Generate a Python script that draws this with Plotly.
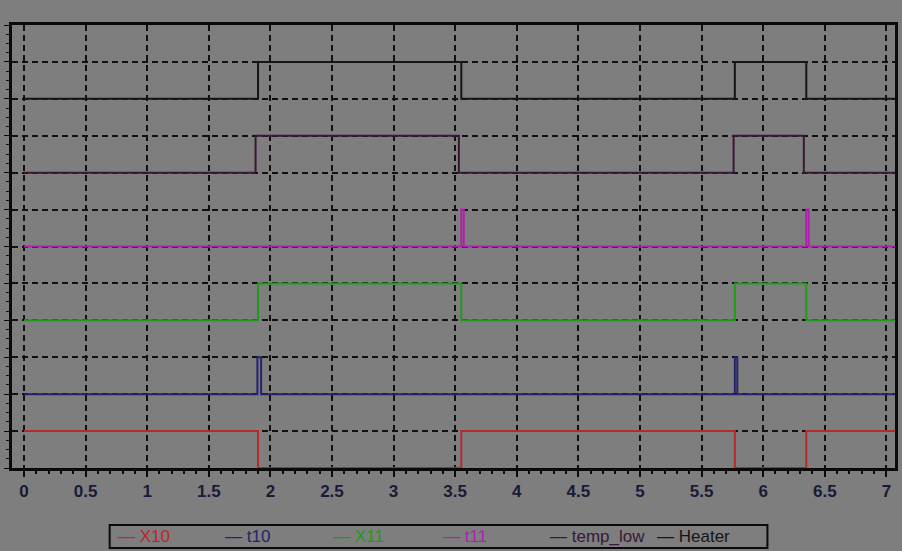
import plotly.graph_objects as go

# ---- data ----
signal_names = ["X10", "t10", "X11", "t11", "temp_low", "Heater"]
signal_colors = ["#b52a2a", "#23236e", "#1f9a1f", "#b020b0", "#3a1838", "#161616"]

x10_t = [0, 1.90, 3.55, 5.77, 6.35, 7.07]
x10_v = [1, 0, 1, 0, 1, 1]
t10_t = [0, 1.895, 1.925, 5.77, 5.79, 7.07]
t10_v = [0, 1, 0, 1, 0, 0]
x11_t = [0, 1.90, 3.55, 5.77, 6.35, 7.07]
x11_v = [0, 1, 0, 1, 0, 0]
t11_t = [0, 3.55, 3.57, 6.35, 6.37, 7.07]
t11_v = [0, 1, 0, 1, 0, 0]
temp_low_t = [0, 1.88, 3.53, 5.76, 6.33, 7.07]
temp_low_v = [0, 1, 0, 1, 0, 0]
heater_t = [0, 1.90, 3.55, 5.77, 6.35, 7.07]
heater_v = [0, 1, 0, 1, 0, 0]

x_tick_vals = [0, 0.5, 1, 1.5, 2, 2.5, 3, 3.5, 4, 4.5, 5, 5.5, 6, 6.5, 7]
x_tick_text = ["0", "0.5", "1", "1.5", "2", "2.5", "3", "3.5", "4", "4.5", "5", "5.5", "6", "6.5", "7"]

series = [(x10_t, x10_v), (t10_t, t10_v), (x11_t, x11_v),
          (t11_t, t11_v), (temp_low_t, temp_low_v), (heater_t, heater_v)]

BG = "#7e7e7e"
fig = go.Figure()
for i, ((tt, vv), name, col) in enumerate(zip(series, signal_names, signal_colors)):
    base = 2 * i
    fig.add_trace(go.Scatter(
        x=tt, y=[v + base for v in vv], mode="lines", name=name,
        line=dict(color=col, width=2, shape="hv"), showlegend=False))

fig.update_layout(
    width=902, height=551,
    paper_bgcolor=BG, plot_bgcolor=BG,
    margin=dict(l=12, r=4, t=25, b=83),
    font=dict(family="Liberation Sans, Arial", size=14, color="#1c1c3c"),
)
fig.update_xaxes(
    range=[-0.097, 7.07], tickvals=x_tick_vals, ticktext=x_tick_text,
    showgrid=True, gridcolor="#111111", gridwidth=1.6, griddash="6px,4px",
    showline=True, linecolor="#0a0a0a", linewidth=3, mirror=True,
    ticks="outside", ticklen=6, tickwidth=1.5, tickcolor="#0a0a0a",
    tickfont=dict(family="Liberation Sans, Arial", size=17, color="#1a1a38", weight="bold"),
    minor=dict(dtick=0.1, tick0=0, ticks="outside", ticklen=3, tickcolor="#0a0a0a", showgrid=False),
    zeroline=False,
)
fig.update_yaxes(
    range=[0, 12], dtick=1, tick0=0, showticklabels=False,
    showgrid=True, gridcolor="#111111", gridwidth=1.6, griddash="6px,4px",
    showline=True, linecolor="#0a0a0a", linewidth=3, mirror=True,
    ticks="outside", ticklen=5, tickwidth=1.2, tickcolor="#0a0a0a",
    minor=dict(dtick=0.25, ticks="outside", ticklen=3, tickcolor="#0a0a0a", showgrid=False),
    zeroline=False,
)

# legend box drawn manually
fig.add_shape(type="rect", xref="paper", yref="paper",
              x0=(110 - 12) / 886, x1=(770 - 12) / 886,
              y0=-(548 - 468) / 443, y1=-(525 - 468) / 443,
              line=dict(color="#0a0a0a", width=2), fillcolor=BG, layer="above")
legend_x_px = [116, 224, 332, 442, 550, 657]
for name, col, px in zip(signal_names, signal_colors, legend_x_px):
    fig.add_annotation(xref="paper", yref="paper",
                       x=(px - 12) / 886, y=-(536.5 - 468) / 443,
                       xanchor="left", yanchor="middle", showarrow=False,
                       text="— " + name,
                       font=dict(family="Liberation Sans, Arial", size=17, color=col))

fig.write_html("out.html", config={"displayModeBar": False},
               post_script="document.body.style.margin='0';document.body.style.overflow='hidden';")
